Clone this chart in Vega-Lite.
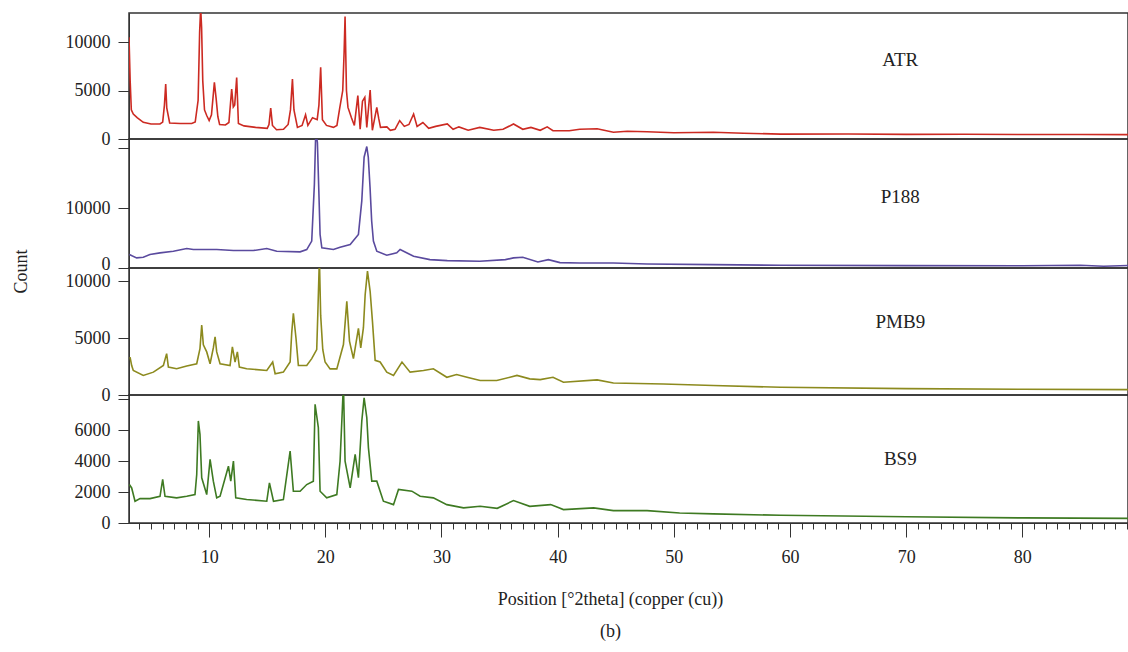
{
  "$schema": "https://vega.github.io/schema/vega-lite/v6.json",
  "background": "white",
  "padding": {"left": 11, "top": 12, "right": 0, "bottom": 5},
  "spacing": 0,
  "bounds": "flush",
  "config": {
    "font": "Liberation Serif",
    "view": {"stroke": "#333", "strokeWidth": 1.5},
    "concat": {"spacing": 0},
    "axis": {"labelFont": "Liberation Serif", "labelFontSize": 18, "labelColor": "#222", "titleFont": "Liberation Serif", "titleFontWeight": "normal", "titleFontSize": 18, "titleColor": "#222", "domainColor": "#333", "tickColor": "#333", "grid": false, "labelOverlap": false, "format": "d"}
  },
  "datasets": {
    "ATR": [
      {"x": 3.1, "y": 10500}, {"x": 3.2, "y": 6000}, {"x": 3.3, "y": 3000}, {"x": 3.47, "y": 2577}, {"x": 3.8, "y": 2200}, {"x": 4.33, "y": 1718}, {"x": 5.0, "y": 1550}, {"x": 5.77, "y": 1546}, {"x": 6.0, "y": 1750}, {"x": 6.15, "y": 3500}, {"x": 6.26, "y": 5670}, {"x": 6.35, "y": 3200}, {"x": 6.6, "y": 1650}, {"x": 7.5, "y": 1600}, {"x": 8.5, "y": 1600}, {"x": 8.8, "y": 1750}, {"x": 9.05, "y": 4000}, {"x": 9.18, "y": 11000}, {"x": 9.27, "y": 13500}, {"x": 9.35, "y": 11500}, {"x": 9.45, "y": 6000}, {"x": 9.6, "y": 3000}, {"x": 9.8, "y": 2400}, {"x": 10.0, "y": 1900}, {"x": 10.2, "y": 2500}, {"x": 10.45, "y": 5840}, {"x": 10.6, "y": 4200}, {"x": 10.75, "y": 2300}, {"x": 10.9, "y": 1500}, {"x": 11.4, "y": 1450}, {"x": 11.7, "y": 1700}, {"x": 11.94, "y": 5150}, {"x": 12.08, "y": 3300}, {"x": 12.2, "y": 3500}, {"x": 12.37, "y": 6350}, {"x": 12.52, "y": 1600}, {"x": 13.0, "y": 1350}, {"x": 14.0, "y": 1200}, {"x": 15.0, "y": 1100}, {"x": 15.15, "y": 1500}, {"x": 15.3, "y": 3200}, {"x": 15.45, "y": 1400}, {"x": 15.8, "y": 950}, {"x": 16.4, "y": 1000}, {"x": 16.8, "y": 1500}, {"x": 17.0, "y": 3000}, {"x": 17.17, "y": 6180}, {"x": 17.3, "y": 3000}, {"x": 17.6, "y": 1200}, {"x": 18.0, "y": 1400}, {"x": 18.3, "y": 2500}, {"x": 18.5, "y": 1400}, {"x": 18.9, "y": 2200}, {"x": 19.3, "y": 2000}, {"x": 19.45, "y": 3500}, {"x": 19.6, "y": 7390}, {"x": 19.75, "y": 2000}, {"x": 20.1, "y": 1400}, {"x": 20.7, "y": 1200}, {"x": 21.0, "y": 1400}, {"x": 21.25, "y": 3260}, {"x": 21.5, "y": 5000}, {"x": 21.62, "y": 9000}, {"x": 21.7, "y": 12640}, {"x": 21.82, "y": 5000}, {"x": 21.95, "y": 3260}, {"x": 22.25, "y": 2200}, {"x": 22.5, "y": 1400}, {"x": 22.8, "y": 4470}, {"x": 23.0, "y": 1000}, {"x": 23.2, "y": 3900}, {"x": 23.4, "y": 4300}, {"x": 23.57, "y": 1200}, {"x": 23.86, "y": 5050}, {"x": 24.05, "y": 900}, {"x": 24.43, "y": 3260}, {"x": 24.6, "y": 2100}, {"x": 24.75, "y": 1200}, {"x": 25.3, "y": 1250}, {"x": 25.6, "y": 900}, {"x": 26.0, "y": 1000}, {"x": 26.4, "y": 1900}, {"x": 26.8, "y": 1300}, {"x": 27.2, "y": 1500}, {"x": 27.6, "y": 2577}, {"x": 27.9, "y": 1300}, {"x": 28.4, "y": 1700}, {"x": 28.9, "y": 1100}, {"x": 29.5, "y": 1300}, {"x": 30.5, "y": 1550}, {"x": 31.0, "y": 1000}, {"x": 31.5, "y": 1250}, {"x": 32.3, "y": 900}, {"x": 33.3, "y": 1200}, {"x": 34.5, "y": 900}, {"x": 35.3, "y": 1000}, {"x": 36.2, "y": 1550}, {"x": 37.0, "y": 1000}, {"x": 37.7, "y": 1200}, {"x": 38.5, "y": 900}, {"x": 39.1, "y": 1250}, {"x": 39.6, "y": 850}, {"x": 41.0, "y": 850}, {"x": 41.9, "y": 1000}, {"x": 43.4, "y": 1050}, {"x": 44.8, "y": 700}, {"x": 46.0, "y": 800}, {"x": 47.7, "y": 750}, {"x": 50.0, "y": 650}, {"x": 53.4, "y": 700}, {"x": 56.0, "y": 600}, {"x": 59.2, "y": 500}, {"x": 65.0, "y": 520}, {"x": 70.0, "y": 480}, {"x": 75.0, "y": 490}, {"x": 80.0, "y": 460}, {"x": 85.0, "y": 470}, {"x": 89.1, "y": 450}
    ],
    "P188": [
      {"x": 3.13, "y": 2250}, {"x": 3.76, "y": 1690}, {"x": 4.33, "y": 1800}, {"x": 4.9, "y": 2250}, {"x": 5.77, "y": 2530}, {"x": 6.92, "y": 2810}, {"x": 8.07, "y": 3260}, {"x": 8.64, "y": 3090}, {"x": 10.65, "y": 3090}, {"x": 12.09, "y": 2920}, {"x": 13.8, "y": 2920}, {"x": 14.96, "y": 3260}, {"x": 15.82, "y": 2810}, {"x": 17.83, "y": 2700}, {"x": 18.4, "y": 3090}, {"x": 18.83, "y": 4500}, {"x": 19.06, "y": 14050}, {"x": 19.18, "y": 23000}, {"x": 19.32, "y": 21000}, {"x": 19.44, "y": 13000}, {"x": 19.55, "y": 5600}, {"x": 19.7, "y": 3370}, {"x": 20.7, "y": 3090}, {"x": 21.27, "y": 3480}, {"x": 22.14, "y": 3930}, {"x": 22.85, "y": 5620}, {"x": 23.14, "y": 11240}, {"x": 23.34, "y": 18550}, {"x": 23.57, "y": 20340}, {"x": 23.7, "y": 18550}, {"x": 23.85, "y": 13500}, {"x": 23.99, "y": 7870}, {"x": 24.14, "y": 4500}, {"x": 24.43, "y": 2810}, {"x": 25.29, "y": 2140}, {"x": 26.15, "y": 2530}, {"x": 26.44, "y": 3090}, {"x": 27.6, "y": 1960}, {"x": 29.0, "y": 1400}, {"x": 30.5, "y": 1240}, {"x": 33.3, "y": 1120}, {"x": 35.5, "y": 1400}, {"x": 36.2, "y": 1690}, {"x": 37.0, "y": 1800}, {"x": 38.3, "y": 1000}, {"x": 39.2, "y": 1400}, {"x": 40.2, "y": 900}, {"x": 41.9, "y": 840}, {"x": 44.8, "y": 840}, {"x": 47.7, "y": 670}, {"x": 53.4, "y": 560}, {"x": 59.2, "y": 450}, {"x": 70.0, "y": 400}, {"x": 80.0, "y": 380}, {"x": 85.0, "y": 450}, {"x": 87.0, "y": 300}, {"x": 89.1, "y": 420}
    ],
    "PMB9": [
      {"x": 3.19, "y": 3340}, {"x": 3.33, "y": 2590}, {"x": 3.47, "y": 2160}, {"x": 4.33, "y": 1720}, {"x": 5.2, "y": 2010}, {"x": 6.06, "y": 2600}, {"x": 6.34, "y": 3640}, {"x": 6.49, "y": 2460}, {"x": 7.2, "y": 2310}, {"x": 8.07, "y": 2550}, {"x": 8.93, "y": 2750}, {"x": 9.21, "y": 4080}, {"x": 9.36, "y": 6160}, {"x": 9.5, "y": 4410}, {"x": 9.79, "y": 3790}, {"x": 10.08, "y": 2750}, {"x": 10.36, "y": 4140}, {"x": 10.51, "y": 5120}, {"x": 10.65, "y": 3790}, {"x": 10.94, "y": 2750}, {"x": 11.8, "y": 2590}, {"x": 12.0, "y": 4230}, {"x": 12.23, "y": 2900}, {"x": 12.43, "y": 3790}, {"x": 12.6, "y": 2460}, {"x": 13.23, "y": 2310}, {"x": 14.96, "y": 2160}, {"x": 15.47, "y": 2900}, {"x": 15.68, "y": 1870}, {"x": 16.39, "y": 2010}, {"x": 16.97, "y": 2900}, {"x": 17.11, "y": 5500}, {"x": 17.25, "y": 7190}, {"x": 17.48, "y": 4950}, {"x": 17.68, "y": 2600}, {"x": 18.4, "y": 2600}, {"x": 18.83, "y": 3200}, {"x": 19.26, "y": 4000}, {"x": 19.35, "y": 7000}, {"x": 19.49, "y": 12000}, {"x": 19.6, "y": 7000}, {"x": 19.78, "y": 4000}, {"x": 19.98, "y": 2900}, {"x": 20.41, "y": 2300}, {"x": 20.99, "y": 2300}, {"x": 21.56, "y": 4440}, {"x": 21.85, "y": 8230}, {"x": 22.08, "y": 4740}, {"x": 22.42, "y": 3200}, {"x": 22.85, "y": 5860}, {"x": 23.05, "y": 4140}, {"x": 23.28, "y": 5920}, {"x": 23.43, "y": 8820}, {"x": 23.63, "y": 10900}, {"x": 23.86, "y": 9100}, {"x": 24.06, "y": 6450}, {"x": 24.29, "y": 3050}, {"x": 24.72, "y": 2900}, {"x": 25.29, "y": 2010}, {"x": 25.87, "y": 1720}, {"x": 26.6, "y": 2900}, {"x": 27.3, "y": 2010}, {"x": 28.45, "y": 2160}, {"x": 29.3, "y": 2310}, {"x": 30.46, "y": 1560}, {"x": 31.3, "y": 1800}, {"x": 32.2, "y": 1560}, {"x": 33.33, "y": 1270}, {"x": 34.76, "y": 1270}, {"x": 36.5, "y": 1720}, {"x": 37.6, "y": 1420}, {"x": 38.5, "y": 1350}, {"x": 39.6, "y": 1560}, {"x": 40.5, "y": 1120}, {"x": 43.4, "y": 1330}, {"x": 44.8, "y": 1060}, {"x": 49.1, "y": 970}, {"x": 53.4, "y": 830}, {"x": 59.2, "y": 680}, {"x": 70.0, "y": 560}, {"x": 80.0, "y": 500}, {"x": 89.1, "y": 470}
    ],
    "BS9": [
      {"x": 3.13, "y": 2490}, {"x": 3.33, "y": 2270}, {"x": 3.62, "y": 1410}, {"x": 4.05, "y": 1580}, {"x": 4.91, "y": 1580}, {"x": 5.77, "y": 1730}, {"x": 6.0, "y": 2820}, {"x": 6.2, "y": 1730}, {"x": 7.2, "y": 1630}, {"x": 8.07, "y": 1730}, {"x": 8.78, "y": 1840}, {"x": 8.93, "y": 3140}, {"x": 9.07, "y": 6610}, {"x": 9.21, "y": 5740}, {"x": 9.36, "y": 2930}, {"x": 9.79, "y": 1840}, {"x": 10.08, "y": 4120}, {"x": 10.36, "y": 2710}, {"x": 10.65, "y": 1630}, {"x": 10.94, "y": 1730}, {"x": 11.66, "y": 3680}, {"x": 11.86, "y": 2710}, {"x": 12.09, "y": 4010}, {"x": 12.29, "y": 1630}, {"x": 13.23, "y": 1520}, {"x": 14.96, "y": 1410}, {"x": 15.19, "y": 2600}, {"x": 15.54, "y": 1410}, {"x": 16.39, "y": 1520}, {"x": 16.97, "y": 4660}, {"x": 17.25, "y": 2060}, {"x": 17.83, "y": 2060}, {"x": 18.4, "y": 2490}, {"x": 18.97, "y": 2710}, {"x": 19.12, "y": 7690}, {"x": 19.4, "y": 6180}, {"x": 19.55, "y": 2060}, {"x": 20.12, "y": 1630}, {"x": 20.99, "y": 1840}, {"x": 21.27, "y": 4000}, {"x": 21.56, "y": 9000}, {"x": 21.7, "y": 4000}, {"x": 22.14, "y": 2270}, {"x": 22.57, "y": 4440}, {"x": 22.85, "y": 2930}, {"x": 23.14, "y": 6610}, {"x": 23.34, "y": 8100}, {"x": 23.57, "y": 6830}, {"x": 23.71, "y": 4880}, {"x": 24.0, "y": 2710}, {"x": 24.43, "y": 2710}, {"x": 25.0, "y": 1410}, {"x": 25.87, "y": 1190}, {"x": 26.3, "y": 2170}, {"x": 27.45, "y": 2060}, {"x": 28.16, "y": 1730}, {"x": 29.3, "y": 1630}, {"x": 30.46, "y": 1190}, {"x": 31.9, "y": 980}, {"x": 33.33, "y": 1080}, {"x": 34.8, "y": 950}, {"x": 36.2, "y": 1450}, {"x": 37.6, "y": 1080}, {"x": 39.4, "y": 1190}, {"x": 40.5, "y": 870}, {"x": 43.1, "y": 980}, {"x": 44.8, "y": 800}, {"x": 47.7, "y": 800}, {"x": 50.5, "y": 650}, {"x": 53.4, "y": 590}, {"x": 59.2, "y": 500}, {"x": 70.0, "y": 400}, {"x": 80.0, "y": 330}, {"x": 89.1, "y": 300}
    ]
  },
  "vconcat": [
    {
      "width": 999, "height": 126,
      "encoding": {
        "x": {"field": "x", "type": "quantitative", "scale": {"domain": [3.1, 89.1], "nice": false, "zero": false}, "axis": null},
        "y": {"field": "y", "type": "quantitative", "scale": {"domain": [0, 13000], "nice": false}, "axis": {"values": [0, 5000, 10000], "title": null, "tickSize": 11, "labelPadding": 8}}
      },
      "layer": [
        {"data": {"name": "ATR"}, "mark": {"type": "line", "color": "#cc2a22", "strokeWidth": 1.6, "clip": true}},
        {"data": {"values": [{"x": 69.5, "y": 8200, "t": "ATR"}]}, "mark": {"type": "text", "fontSize": 19, "font": "Liberation Serif", "color": "#222"}, "encoding": {"text": {"field": "t"}}}
      ]
    },
    {
      "width": 999, "height": 129,
      "encoding": {
        "x": {"field": "x", "type": "quantitative", "scale": {"domain": [3.1, 89.1], "nice": false, "zero": false}, "axis": null},
        "y": {"field": "y", "type": "quantitative", "scale": {"domain": [0, 21600], "nice": false}, "axis": {"values": [0, 10000, 20100], "labelExpr": "datum.value > 15000 ? '' : datum.label", "labelOffset": {"condition": {"test": "datum.value === 0", "value": -4}, "value": 0}, "title": "Count", "titleX": -99, "titleY": 132, "tickSize": 11, "labelPadding": 8}}
      },
      "layer": [
        {"data": {"name": "P188"}, "mark": {"type": "line", "color": "#5a4a9e", "strokeWidth": 1.6, "clip": true}},
        {"data": {"values": [{"x": 69.5, "y": 11900, "t": "P188"}]}, "mark": {"type": "text", "fontSize": 19, "font": "Liberation Serif", "color": "#222"}, "encoding": {"text": {"field": "t"}}}
      ]
    },
    {
      "width": 999, "height": 127,
      "encoding": {
        "x": {"field": "x", "type": "quantitative", "scale": {"domain": [3.1, 89.1], "nice": false, "zero": false}, "axis": null},
        "y": {"field": "y", "type": "quantitative", "scale": {"domain": [0, 11170], "nice": false}, "axis": {"values": [0, 5000, 10000], "title": null, "tickSize": 11, "labelPadding": 8}}
      },
      "layer": [
        {"data": {"name": "PMB9"}, "mark": {"type": "line", "color": "#8c8a1e", "strokeWidth": 1.6, "clip": true}},
        {"data": {"values": [{"x": 69.5, "y": 6380, "t": "PMB9"}]}, "mark": {"type": "text", "fontSize": 19, "font": "Liberation Serif", "color": "#222"}, "encoding": {"text": {"field": "t"}}}
      ]
    },
    {
      "width": 999, "height": 128,
      "encoding": {
        "x": {"field": "x", "type": "quantitative", "scale": {"domain": [3.1, 89.1], "nice": false, "zero": false},
              "axis": {"values": [4,5,6,7,8,9,10,11,12,13,14,15,16,17,18,19,20,21,22,23,24,25,26,27,28,29,30,31,32,33,34,35,36,37,38,39,40,41,42,43,44,45,46,47,48,49,50,51,52,53,54,55,56,57,58,59,60,61,62,63,64,65,66,67,68,69,70,71,72,73,74,75,76,77,78,79,80,81,82,83,84,85,86,87,88,89],
                       "tickSize": {"condition": {"test": "datum.value % 10 === 0", "value": 14}, "value": 6},
                       "labelExpr": "datum.value % 10 === 0 ? datum.label : ''",
                       "labelOverlap": false, "labelFlush": false, "labelPadding": 11,
                       "title": ["Position [°2theta] (copper (cu))", "(b)"], "titleLineHeight": 32, "titlePadding": 24, "titleX": 481}},
        "y": {"field": "y", "type": "quantitative", "scale": {"domain": [0, 8290], "nice": false}, "axis": {"values": [0, 2000, 4000, 6000, 8050], "labelExpr": "datum.value > 7000 ? '' : datum.label", "title": null, "tickSize": 11, "labelPadding": 8}}
      },
      "layer": [
        {"data": {"name": "BS9"}, "mark": {"type": "line", "color": "#3e7a22", "strokeWidth": 1.6, "clip": true}},
        {"data": {"values": [{"x": 69.5, "y": 4140, "t": "BS9"}]}, "mark": {"type": "text", "fontSize": 19, "font": "Liberation Serif", "color": "#222"}, "encoding": {"text": {"field": "t"}}}
      ]
    }
  ]
}
